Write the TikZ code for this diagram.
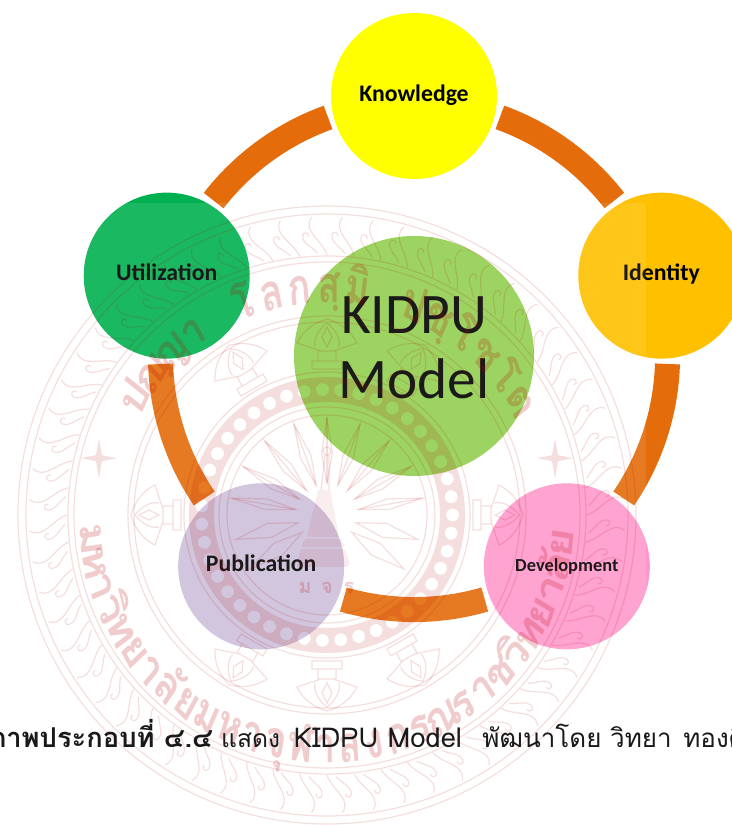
\documentclass[tikz,border=0pt]{standalone}
\usepackage{fontspec}
\setmainfont{Carlito}
\newfontfamily\thaifont[Script=Thai]{Loma}
\definecolor{bandc}{HTML}{E46C0A}
\definecolor{wmred}{HTML}{B80000}
\definecolor{kcol}{HTML}{FFFF00}
\definecolor{icol}{HTML}{FFC000}
\definecolor{dcol}{HTML}{FF99CC}
\definecolor{pcol}{HTML}{CCC0DA}
\definecolor{ucol}{HTML}{00B050}
\definecolor{ccol}{HTML}{92D050}
\tikzset{
  disc/.style={circle,inner sep=0pt,minimum size=124.5pt,outer sep=4.125pt,text=black,text height=.9em,text depth=.14em,font=\fontsize{17.8}{20}\selectfont\bfseries},
  band/.style={draw=bandc,line width=18.75pt},
  wml/.style={draw=wmred,draw opacity=.13,line width=.9pt},
  wmf/.style={fill=wmred,fill opacity=.13},
  wms/.style={fill=wmred,fill opacity=.07},
  wmt/.style={text=wmred,text opacity=.2,inner sep=0pt,anchor=base,xscale=.75,transform shape,font=\thaifont\fontsize{38}{40}\selectfont\bfseries},
  wmm/.style={text=wmred,text opacity=.2,inner sep=0pt,font=\thaifont\fontsize{15}{17}\selectfont\bfseries},
}
\begin{document}
\begin{tikzpicture}[x=.75pt,y=.75pt]
\clip (0,0) rectangle (732,825);
\fill[white] (0,0) rectangle (732,825);
% ---------- diagram
\begin{scope}[shift={(414,469)}]
\node[disc,fill=kcol] (k) at (90:260) {Knowledge};
\node[disc,fill=icol] (i) at (18:260) {Identity};
\node[disc,fill=dcol,font=\fontsize{13.8}{16}\selectfont\bfseries] (d) at (-54:260) {Development};
\node[disc,fill=pcol] (p) at (-126:260) {Publication};
\node[disc,fill=ucol] (u) at (-198:260) {Utilization};
\node[circle,inner sep=0pt,minimum size=180pt,fill=ccol] (c) at (0,0) {};
\node[align=center,inner sep=0pt,text=black,font=\fontsize{43}{48.75}\selectfont] (ct) at ([yshift=6pt]c.center) {KIDPU\\Model};
\draw[band] (k.-14.05) arc[start angle=70.2,end angle=37.8,radius=253.5];
\draw[band] (i.-86.05) arc[start angle=-1.8,end angle=-34.2,radius=253.5];
\draw[band] (d.-158.05) arc[start angle=-73.8,end angle=-106.2,radius=253.5];
\draw[band] (p.-230.05) arc[start angle=-145.8,end angle=-178.2,radius=253.5];
\draw[band] (u.-302.05) arc[start angle=-217.8,end angle=-250.2,radius=253.5];
\end{scope}
% ---------- translucent watermark layer
\fill[white,fill opacity=.1] (0,0) rectangle (646,622);
\begin{scope}[shift={(327,310)}]
\foreach \r in {309,301,259,253,199,193,143,108,100} \draw[wml] (0,0) circle (\r);
\fill[wmf,even odd rule] (0,0) circle (138) (0,0) circle (113)
  \foreach \n in {1,...,43} {({\n*360/43}:125.5) circle (6.5)};
\foreach \a in {0,6,...,354} {
  \draw[wml] (\a:260) .. controls ({\a+1}:275) and ({\a+5}:285) .. ({\a+3}:298);
  \draw[wml] ({\a+2}:262) .. controls ({\a+4}:272) and ({\a+5}:272) .. ({\a+5}:280) .. controls ({\a+5}:284) and ({\a+3.6}:284) .. ({\a+3.8}:279);
}
\foreach \a in {0,60,90,120,180,240,270,300} {
  \begin{scope}[rotate=\a]
  \draw[wml] (146,-15) rectangle (154,15) (154,-9) rectangle (164,9) (164,-6) -- (172,-30) .. controls (184,-24) and (192,-14) .. (196,0) .. controls (192,14) and (184,24) .. (172,30) -- (164,6);
  \draw[wml] (168,-12) .. controls (176,-14) and (186,-8) .. (192,0) .. controls (186,8) and (176,14) .. (168,12);
  \draw[wml] (168,0) -- (178,-5) -- (188,0) -- (178,5) -- cycle;
  \end{scope}
}
\foreach \a in {10,30,...,170} {
  \draw[wml] (\a:32) -- ({\a+5}:62) -- (\a:97) -- ({\a-5}:62) -- cycle;
  \draw[wml] (\a:32) -- (\a:97);
}
\foreach \a in {195,345,215,325} {
  \draw[wml] (\a:30) -- ({\a+7}:60) -- (\a:94) -- ({\a-7}:60) -- cycle;
}
% stupa
\fill[wms] (-30,-46) rectangle (22,-52);
\fill[wms] (-26,-34) -- (18,-34) -- (22,-46) -- (-30,-46) -- cycle;
\fill[wms] (-22,-24) -- (14,-24) -- (18,-32) -- (-26,-32) -- cycle;
\fill[wms] (-9,25) -- (3,25) -- (12,-22) -- (-20,-22) -- cycle;
\draw[wml] (-6,25) -- (-2,60) -- (2,60) -- (2,25) (0,64) circle (4);
\node[wmm] (ma) at (-22,-73) {ม};
\node[wmm] (cha) at (0,-73) {จ};
\node[wmm] (ra) at (22,-73) {ร};
% stars
\foreach \s/\b in {sl/166,sr/14} {
  \coordinate (\s) at (\b:235);
  \fill[wmf] (\s) +(0,20) -- +(3,3) -- +(18,0) -- +(3,-3) -- +(0,-20) -- +(-3,-3) -- +(-18,0) -- +(-3,3) -- cycle;
}
% lettering
\foreach \c [count=\n from 0] in {ม,ห,า,วิ,ท,ย,า,ลั,ย,ม,ห,า,จุ,ฬ,า,ล,ง,ก,ร,ณ,ร,า,ช,วิ,ท,ย,า,ลั,ย} {
  \pgfmathsetmacro{\ang}{186+\n*167/28}
  \node[wmt,rotate=\ang+90] (low\n) at (\ang:248) {\c};
}
\foreach \c [count=\n from 0] in {ป,ญฺ,ญ,า,{},โ,ล,ก,สฺ,มิ,{},ป,ชฺ,โ,ช,โ,ต} {
  \pgfmathsetmacro{\ang}{149-\n*119/16}
  \node[wmt,rotate=\ang-90] (up\n) at (\ang:212) {\c};
}
\end{scope}
% ---------- caption
\node[anchor=base west,inner sep=0pt,text=black!90,font=\thaifont\fontsize{18.5}{20}\selectfont] (cap) at (-12,77) {{\bfseries\fontsize{20.5}{20}\selectfont ภาพประกอบที่ ๔.๔} แสดง\hspace{4pt} {\fontsize{20.5}{20}\selectfont KIDPU Model}\hspace{9pt} {\fontsize{19.5}{20}\selectfont พัฒนาโดย วิทยา\hspace{2pt} ทองดี}};
\end{tikzpicture}
\end{document}
